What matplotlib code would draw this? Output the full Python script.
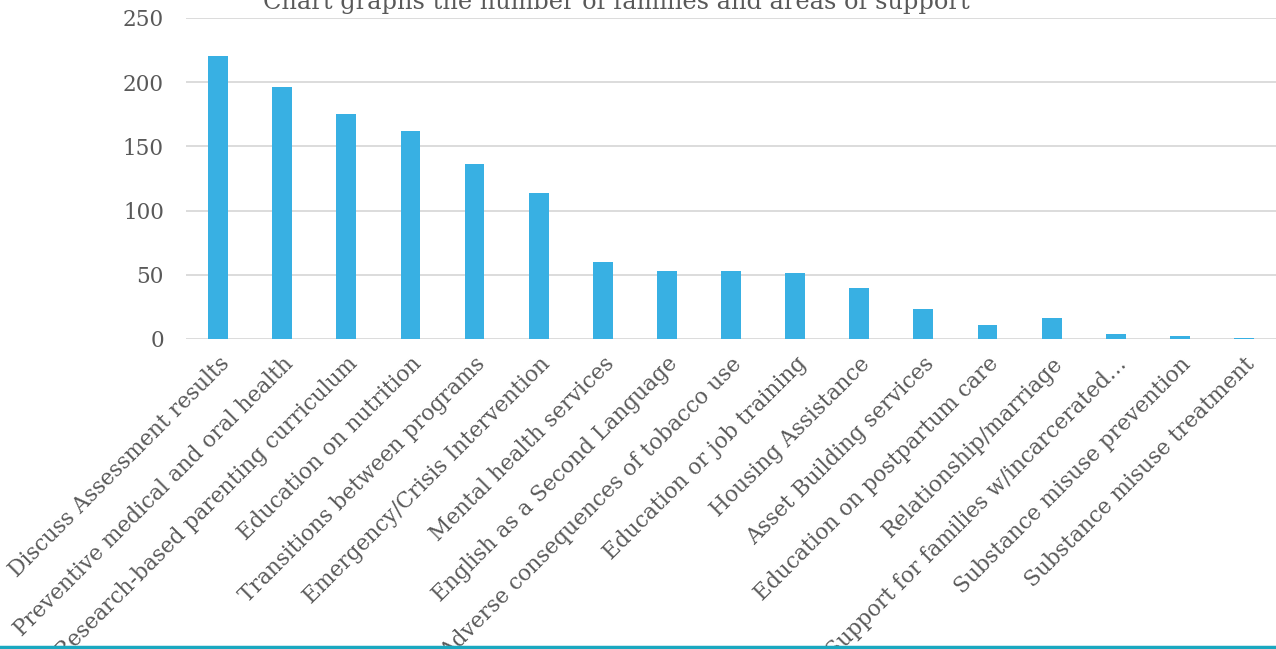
import matplotlib.pyplot as plt
from matplotlib.lines import Line2D

plt.rcParams['font.family'] = ['DejaVu Serif']

categories = [
    "Discuss Assessment results",
    "Preventive medical and oral health",
    "Research-based parenting curriculum",
    "Education on nutrition",
    "Transitions between programs",
    "Emergency/Crisis Intervention",
    "Mental health services",
    "English as a Second Language",
    "Adverse consequences of tobacco use",
    "Education or job training",
    "Housing Assistance",
    "Asset Building services",
    "Education on postpartum care",
    "Relationship/marriage",
    "Support for families w/incarcerated…",
    "Substance misuse prevention",
    "Substance misuse treatment",
]
families = [220, 196, 175, 162, 136, 114, 60, 53, 53, 51, 40, 23, 11, 16, 4, 2, 1]
yticks = [0, 50, 100, 150, 200, 250]

fig = plt.figure(figsize=(12.76, 6.49), dpi=100)
ax = fig.add_axes([0.1458, 0.4777, 0.8542, 0.4946])

ax.bar(range(len(categories)), families, width=0.31, color='#38B0E3', zorder=3)
ax.set_xlim(-0.5, len(categories) - 0.5)
ax.set_ylim(0, 250)
ax.set_yticks(yticks)
ax.yaxis.grid(True, color='#D9D9D9', linewidth=1.3, zorder=0)
for s in ax.spines.values():
    s.set_visible(False)
ax.tick_params(axis='both', length=0, labelcolor='#595959')
ax.tick_params(axis='y', pad=16, labelsize=15.5)
ax.set_xticks(range(len(categories)))
ax.set_xticklabels(categories, rotation=45, ha='right', rotation_mode='anchor',
                   fontsize=15.6)
ax.tick_params(axis='x', pad=10)

fig.text(0.483, 0.996, "Chart graphs the number of families and areas of support",
         ha='center', va='center', fontsize=17.3, color='#595959')
fig.add_artist(Line2D([0, 1], [0.0035, 0.0035], color='#1AA8C0', linewidth=2.5,
                      transform=fig.transFigure))

fig.savefig('out.png', dpi=100)
